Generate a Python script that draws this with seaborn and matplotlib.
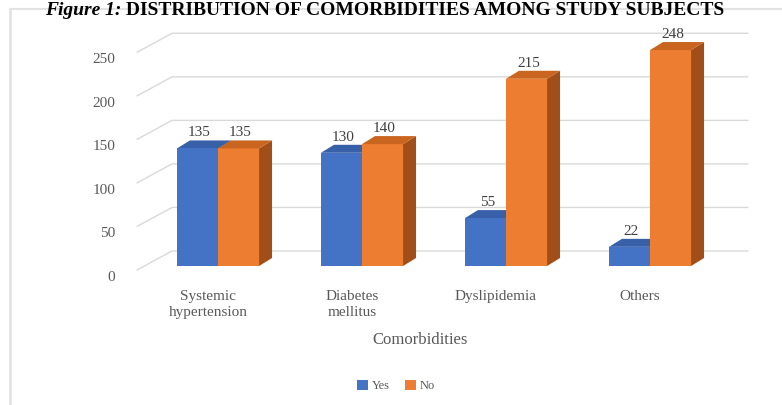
import numpy as np
import pandas as pd
import matplotlib
matplotlib.use("Agg")
import matplotlib.pyplot as plt
import seaborn as sns
from matplotlib.patches import Polygon, Patch
from matplotlib.lines import Line2D
from matplotlib.transforms import IdentityTransform, ScaledTranslation

# ---- data ----
categories = ["Systemic\nhypertension", "Diabetes\nmellitus", "Dyslipidemia", "Others"]
yes_values = [135, 130, 55, 22]
no_values = [135, 140, 215, 248]
series = ["Yes", "No"]
y_ticks = [0, 50, 100, 150, 200, 250]
title_a = "Figure 1:"
title_b = " DISTRIBUTION OF COMORBIDITIES AMONG STUDY SUBJECTS"
x_label = "Comorbidities"

df = pd.DataFrame({
    "Comorbidities": categories * 2,
    "Count": yes_values + no_values,
    "Response": ["Yes"] * len(categories) + ["No"] * len(categories),
})

sns.set_theme(style="white")
plt.rcParams["font.family"] = ["Liberation Serif", "DejaVu Serif"]

W, H = 782, 405
fig = plt.figure(figsize=(W / 100, H / 100), dpi=100)
fig.patch.set_facecolor("white")
ax = fig.add_axes([146 / W, 139 / H, 576 / W, 217.7 / H])
ax.set_facecolor("none")

front = {"Yes": "#4472C4", "No": "#ED7D31"}
side = {"Yes": "#2F528F", "No": "#A24E18"}
top = {"Yes": "#3860A8", "No": "#C9651F"}

sns.barplot(data=df, x="Comorbidities", y="Count", hue="Response",
            order=categories, hue_order=series, palette=front,
            width=0.57, saturation=1, ax=ax, legend=False, zorder=3,
            linewidth=0)
ax.set_xlim(-0.5, 3.5)
ax.set_ylim(0, 250)
for s in ax.spines.values():
    s.set_visible(False)
ax.set_xlabel("")
ax.set_ylabel("")
ax.set_yticks(y_ticks)
ax.set_yticklabels([str(t) for t in y_ticks])
ax.tick_params(axis="y", length=0, pad=22, labelsize=11, labelcolor="#595959")
ax.tick_params(axis="x", length=0, pad=17, labelsize=11, labelcolor="#595959")
ax.set_xticks(range(len(categories)))
ax.set_xticklabels(categories, linespacing=1.3)
off_y = ScaledTranslation(0, -7 / 72, fig.dpi_scale_trans)
for lab in ax.get_yticklabels():
    lab.set_transform(lab.get_transform() + off_y)
off_x = ScaledTranslation(-10 / 100, 0, fig.dpi_scale_trans)
for lab in ax.get_xticklabels():
    lab.set_transform(lab.get_transform() + off_x)

ident = IdentityTransform()
fig.canvas.draw()

# back-wall gridlines (3D look), behind the bars
for t in y_ticks:
    _, yf = ax.transData.transform((0, t))
    xs = [137, 172, 748]
    ys = [yf - 4, yf + 15, yf + 15]
    ln = Line2D(xs, ys, transform=ident, color="#D9D9D9", lw=1.0, zorder=1, clip_on=False)
    ax.add_line(ln)

# depth faces of bars
dx, dy = 13, 8
for i, bar in enumerate(ax.patches[:2 * len(categories)]):
    key = series[0] if i < len(categories) else series[1]
    (x0, y0), (x1, y1) = ax.transData.transform(
        [(bar.get_x(), 0), (bar.get_x() + bar.get_width(), bar.get_height())])
    z = 2.5 if key == "Yes" else 3.5
    topf = Polygon([(x0, y1), (x1, y1), (x1 + dx, y1 + dy), (x0 + dx, y1 + dy)],
                   closed=True, transform=ident, facecolor=top[key], edgecolor="none",
                   zorder=z, clip_on=False)
    sidef = Polygon([(x1, y0), (x1, y1), (x1 + dx, y1 + dy), (x1 + dx, y0 + dy)],
                    closed=True, transform=ident, facecolor=side[key], edgecolor="none",
                    zorder=z, clip_on=False)
    ax.add_patch(sidef)
    ax.add_patch(topf)
    fig.text(((x0 + x1) / 2 + 2) / W, (y1 + dy + 1) / H, f"{bar.get_height():.0f}",
             ha="center", va="bottom", fontsize=11, color="#404040")

# axis title
fig.text(420 / W, 1 - 340 / H, x_label, ha="center", va="center", fontsize=12, color="#595959")

# legend
handles = [Patch(facecolor=front[k], edgecolor="none") for k in series]
fig.legend(handles, series, loc="center", bbox_to_anchor=(396 / W, 1 - 386 / H), ncol=2,
           frameon=False, fontsize=9, handlelength=0.9, handleheight=0.9,
           handletextpad=0.3, columnspacing=1.2, labelcolor="#595959")

# chart-area border (top and left)
fig.add_artist(Line2D([10, W], [H - 9, H - 9], transform=ident, color="#E3E3E3", lw=1.5))
fig.add_artist(Line2D([10, 10], [0, H - 9], transform=ident, color="#E3E3E3", lw=2))

# title at the very top
t1 = fig.text(45 / W, (H - 15) / H, title_a, ha="left", va="baseline", fontsize=14,
              fontweight="bold", fontstyle="italic", color="black")
fig.canvas.draw()
bb = t1.get_window_extent()
fig.text(bb.x1 / W, (H - 15) / H, title_b, ha="left", va="baseline", fontsize=14,
         fontweight="bold", color="black")

fig.savefig("out.png", dpi=100)
